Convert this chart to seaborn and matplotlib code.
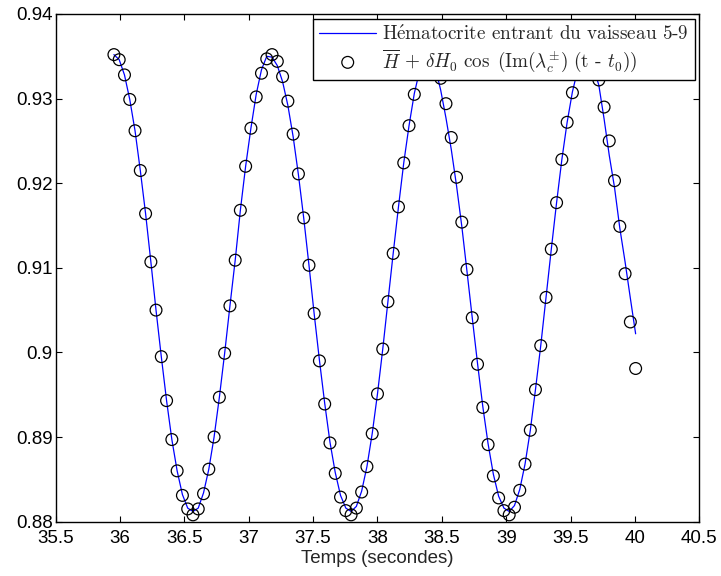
import matplotlib
matplotlib.use("Agg")
import matplotlib.pyplot as plt
from matplotlib.font_manager import FontProperties
import numpy as np
import pandas as pd
import seaborn as sns

# ---------------- data ----------------
time_s = [
    35.953, 35.994, 36.035, 36.076, 36.117, 36.158, 36.199, 36.240, 36.280, 36.321,
    36.362, 36.403, 36.444, 36.485, 36.526, 36.567, 36.608, 36.649, 36.690, 36.731,
    36.772, 36.813, 36.854, 36.895, 36.935, 36.976, 37.017, 37.058, 37.099, 37.140,
    37.181, 37.222, 37.263, 37.304, 37.345, 37.386, 37.427, 37.468, 37.508, 37.549,
    37.590, 37.631, 37.672, 37.713, 37.754, 37.795, 37.836, 37.877, 37.918, 37.959,
    38.000, 38.041, 38.081, 38.122, 38.163, 38.204, 38.245, 38.286, 38.327, 38.368,
    38.409, 38.450, 38.491, 38.532, 38.573, 38.614, 38.655, 38.695, 38.736, 38.777,
    38.818, 38.859, 38.900, 38.941, 38.982, 39.023, 39.064, 39.105, 39.146, 39.187,
    39.227, 39.268, 39.309, 39.350, 39.391, 39.432, 39.473, 39.514, 39.555, 39.596,
    39.637, 39.678, 39.719, 39.760, 39.800, 39.841, 39.882, 39.923, 39.964, 40.005,
]

# circles: H_bar + dH0 cos(Im(lambda) (t - t0))
fit_values = [
    0.9352, 0.9346, 0.9328, 0.9299, 0.9262, 0.9215, 0.9164, 0.9107, 0.9050, 0.8995,
    0.8943, 0.8897, 0.8860, 0.8831, 0.8815, 0.8808, 0.8815, 0.8833, 0.8862, 0.8900,
    0.8947, 0.8999, 0.9055, 0.9109, 0.9168, 0.9220, 0.9265, 0.9302, 0.9330, 0.9347,
    0.9352, 0.9344, 0.9326, 0.9297, 0.9258, 0.9211, 0.9159, 0.9103, 0.9046, 0.8990,
    0.8939, 0.8893, 0.8857, 0.8829, 0.8813, 0.8808, 0.8816, 0.8835, 0.8865, 0.8904,
    0.8951, 0.9004, 0.9060, 0.9117, 0.9172, 0.9224, 0.9268, 0.9305, 0.9331, 0.9347,
    0.9352, 0.9344, 0.9324, 0.9294, 0.9254, 0.9207, 0.9154, 0.9098, 0.9041, 0.8986,
    0.8935, 0.8891, 0.8854, 0.8828, 0.8813, 0.8808, 0.8817, 0.8837, 0.8868, 0.8908,
    0.8956, 0.9008, 0.9065, 0.9122, 0.9177, 0.9228, 0.9272, 0.9307, 0.9332, 0.9348,
    0.9352, 0.9345, 0.9322, 0.9290, 0.9250, 0.9203, 0.9149, 0.9093, 0.9036, 0.8981,
]

# blue line: entering hematocrit of vessel 5-9
hematocrit = [
    0.9352, 0.9346, 0.9328, 0.9299, 0.9262, 0.9215, 0.9164, 0.9107, 0.9050, 0.8995,
    0.8943, 0.8897, 0.8860, 0.8832, 0.8816, 0.8812, 0.8816, 0.8834, 0.8862, 0.8900,
    0.8947, 0.8999, 0.9055, 0.9109, 0.9168, 0.9220, 0.9265, 0.9305, 0.9334, 0.9350,
    0.9349, 0.9339, 0.9320, 0.9292, 0.9255, 0.9210, 0.9159, 0.9103, 0.9046, 0.8991,
    0.8940, 0.8894, 0.8858, 0.8831, 0.8816, 0.8812, 0.8818, 0.8836, 0.8865, 0.8904,
    0.8951, 0.9004, 0.9060, 0.9117, 0.9172, 0.9224, 0.9268, 0.9306, 0.9333, 0.9349,
    0.9350, 0.9336, 0.9310, 0.9277, 0.9240, 0.9197, 0.9149, 0.9096, 0.9041, 0.8987,
    0.8936, 0.8892, 0.8856, 0.8830, 0.8816, 0.8812, 0.8819, 0.8838, 0.8868, 0.8908,
    0.8956, 0.9008, 0.9065, 0.9122, 0.9177, 0.9228, 0.9272, 0.9308, 0.9334, 0.9349,
    0.9349, 0.9336, 0.9316, 0.9276, 0.9233, 0.9195, 0.9147, 0.9107, 0.9064, 0.9022,
]

x_ticks = [35.5, 36.0, 36.5, 37.0, 37.5, 38.0, 38.5, 39.0, 39.5, 40.0, 40.5]
x_tick_labels = ["35.5", "36", "36.5", "37", "37.5", "38", "38.5", "39", "39.5", "40", "40.5"]
y_ticks = [0.88, 0.89, 0.90, 0.91, 0.92, 0.93, 0.94]
y_tick_labels = ["0.88", "0.89", "0.9", "0.91", "0.92", "0.93", "0.94"]

x_label = "Temps (secondes)"
label_line = r"H$\acute{\mathrm{e}}$matocrite entrant du vaisseau 5-9"
label_fit = r"$\overline{H}\,+\,\delta H_0\ \cos\ (\mathrm{Im}(\lambda_c^{\pm})\ (\mathrm{t}$ - $t_0))$"

# ---------------- style ----------------
sns.set_style("ticks")
plt.rcParams["font.family"] = ["Liberation Sans", "DejaVu Sans"]
plt.rcParams["mathtext.fontset"] = "cm"

fig = plt.figure(figsize=(7.21, 5.76), dpi=100)
ax = fig.add_axes([0.0771, 0.0944, 0.8929, 0.8813])

df = pd.DataFrame({"t": time_s, "h": hematocrit, "f": fit_values})

sns.lineplot(data=df, x="t", y="h", ax=ax, color="#0000ff", linewidth=0.9,
             sort=False, estimator=None, zorder=2, legend=False)
sns.scatterplot(data=df, x="t", y="f", ax=ax, marker="o", s=72,
                linewidth=0.9, zorder=3, legend=False)
sc = ax.collections[-1]
sc.set_facecolor("none")
sc.set_edgecolor("black")

ax.set_xlim(35.5, 40.5)
ax.set_ylim(0.88, 0.94)
ax.set_xticks(x_ticks)
ax.set_xticklabels(x_tick_labels)
ax.set_yticks(y_ticks)
ax.set_yticklabels(y_tick_labels)
ax.tick_params(direction="in", top=True, right=True, length=4, width=0.8,
               labelsize=13.5, colors="black")
ax.tick_params(axis="x", pad=6)
ax.tick_params(axis="y", pad=2)
for s in ax.spines.values():
    s.set_visible(True)
    s.set_linewidth(1.0)
    s.set_color("black")

ax.set_xlabel(x_label, fontsize=13.5, labelpad=2)
ax.set_ylabel("")

line_handle = ax.lines[0]
leg = ax.legend([line_handle, sc], [label_line, label_fit], loc="upper right",
                prop=FontProperties(family=["cmr10", "DejaVu Serif"], size=13.8),
                frameon=True, fancybox=False, framealpha=1.0, edgecolor="black",
                borderaxespad=0.25, handlelength=3.0, handletextpad=0.3,
                labelspacing=0.2, borderpad=0.3)
leg.get_frame().set_linewidth(1.0)

fig.savefig("out.png", dpi=100)
